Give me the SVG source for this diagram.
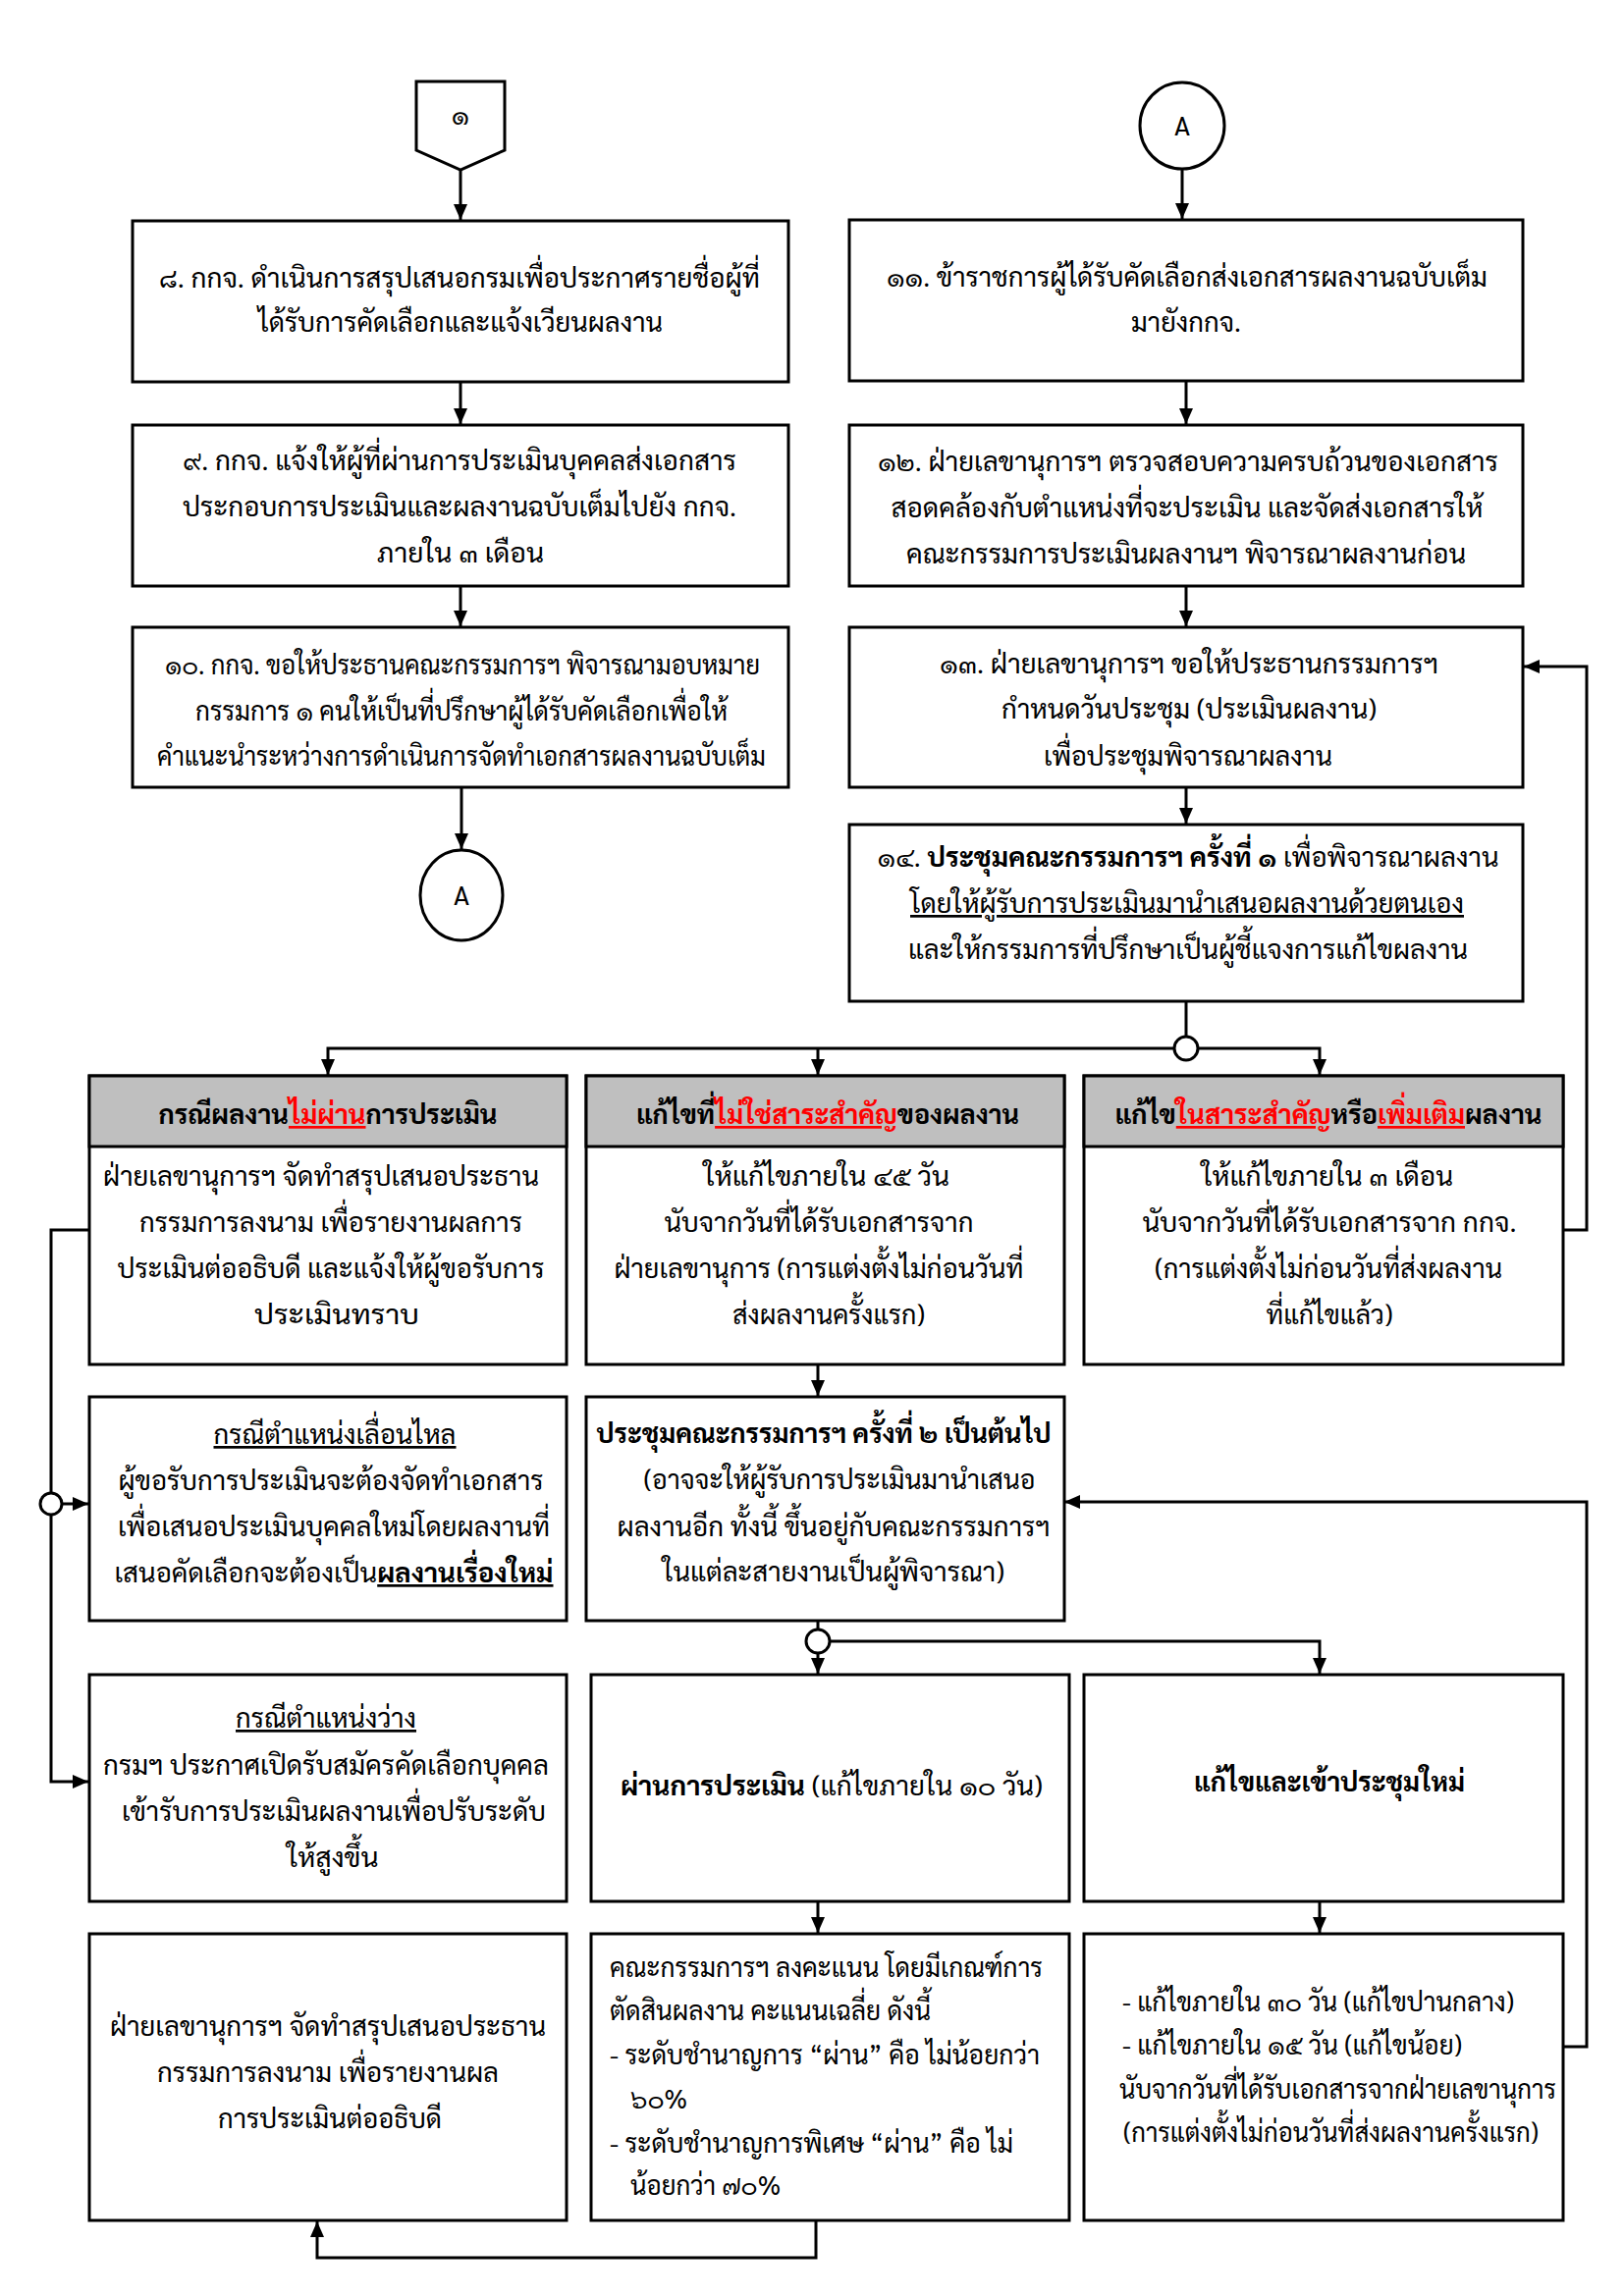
<svg xmlns="http://www.w3.org/2000/svg" width="1654" height="2339" viewBox="0 0 1654 2339">
<style>
.box{fill:#fff;stroke:#000;stroke-width:3}
.hdr{fill:#BFBFBF;stroke:#000;stroke-width:3}
.ln{fill:none;stroke:#000;stroke-width:3}
.arr{fill:none;stroke:#000;stroke-width:3;marker-end:url(#ah)}
.jc{fill:#fff;stroke:#000;stroke-width:3}
text{font-family:"TH Sarabun New","Sarabun","Noto Sans Thai","Noto Sans Thai UI","Garuda","Loma","Noto Sans","DejaVu Sans",sans-serif;font-size:27px;fill:#000;text-anchor:middle}
.l{text-anchor:start}
.b{font-weight:bold}
.u{text-decoration:underline}
.r{fill:#FF0000}
</style>
<defs>
<marker id="ah" viewBox="0 0 16 14" refX="16" refY="7" markerWidth="16" markerHeight="14" markerUnits="userSpaceOnUse" orient="auto">
<path d="M0,0 L16,7 L0,14 z" fill="#000"/>
</marker>
</defs>
<rect x="0" y="0" width="1654" height="2339" fill="#fff"/>

<g id="connectors">
<line class="arr" x1="469" y1="173" x2="469" y2="224"/>
<line class="arr" x1="469" y1="389" x2="469" y2="432"/>
<line class="arr" x1="469" y1="597" x2="469" y2="638"/>
<line class="arr" x1="470" y1="802" x2="470" y2="865"/>
<line class="arr" x1="1204" y1="172" x2="1204" y2="223"/>
<line class="arr" x1="1208" y1="388" x2="1208" y2="432"/>
<line class="arr" x1="1208" y1="597" x2="1208" y2="638"/>
<line class="arr" x1="1208" y1="802" x2="1208" y2="839"/>
<line class="ln" x1="1208" y1="1020" x2="1208" y2="1056"/>
<polyline class="arr" points="1196,1068 334,1068 334,1095"/>
<line class="arr" x1="833" y1="1068" x2="833" y2="1095"/>
<polyline class="arr" points="1220,1068 1344,1068 1344,1095"/>
<polyline class="arr" points="1592,1253 1616,1253 1616,679 1552,679"/>
<polyline class="arr" points="91,1253 52,1253 52,1815 90,1815"/>
<line class="arr" x1="63" y1="1532" x2="90" y2="1532"/>
<line class="arr" x1="833" y1="1390" x2="833" y2="1422"/>
<polyline class="arr" points="1592,2085 1616,2085 1616,1530 1084,1530"/>
<line class="ln" x1="833" y1="1651" x2="833" y2="1660"/>
<line class="arr" x1="833" y1="1684" x2="833" y2="1705"/>
<polyline class="arr" points="845,1672 1344,1672 1344,1705"/>
<line class="arr" x1="833" y1="1937" x2="833" y2="1969"/>
<line class="arr" x1="1344" y1="1937" x2="1344" y2="1969"/>
<polyline class="arr" points="831,2262 831,2300 323,2300 323,2263"/>
<circle class="jc" cx="1208" cy="1068" r="12"/>
<circle class="jc" cx="52" cy="1532" r="11"/>
<circle class="jc" cx="833" cy="1672" r="12"/>
</g>

<g id="n-offpage1">
<polygon class="box" points="424,83 514,83 514,153 469,173 424,153"/>
<text x="469" y="127">๑</text>
</g>

<g id="n-connA-top">
<ellipse class="box" cx="1204" cy="128" rx="43" ry="44"/>
<text x="1204" y="138">A</text>
</g>

<g id="n8">
<rect class="box" x="135" y="225" width="668" height="164"/>
<text x="468" y="293" textLength="612" lengthAdjust="spacingAndGlyphs">๘. กกจ. ดำเนินการสรุปเสนอกรมเพื่อประกาศรายชื่อผู้ที่</text>
<text x="469" y="338" textLength="412" lengthAdjust="spacingAndGlyphs">ได้รับการคัดเลือกและแจ้งเวียนผลงาน</text>
</g>

<g id="n11">
<rect class="box" x="865" y="224" width="686" height="164"/>
<text x="1209" y="292" textLength="612" lengthAdjust="spacingAndGlyphs">๑๑. ข้าราชการผู้ได้รับคัดเลือกส่งเอกสารผลงานฉบับเต็ม</text>
<text x="1208" y="338" textLength="112" lengthAdjust="spacingAndGlyphs">มายังกกจ.</text>
</g>

<g id="n9">
<rect class="box" x="135" y="433" width="668" height="164"/>
<text x="468" y="479" textLength="564" lengthAdjust="spacingAndGlyphs">๙. กกจ. แจ้งให้ผู้ที่ผ่านการประเมินบุคคลส่งเอกสาร</text>
<text x="468" y="526" textLength="564" lengthAdjust="spacingAndGlyphs">ประกอบการประเมินและผลงานฉบับเต็มไปยัง กกจ.</text>
<text x="469" y="573" textLength="170" lengthAdjust="spacingAndGlyphs">ภายใน ๓ เดือน</text>
</g>

<g id="n12">
<rect class="box" x="865" y="433" width="686" height="164"/>
<text x="1210" y="480" textLength="632" lengthAdjust="spacingAndGlyphs">๑๒. ฝ่ายเลขานุการฯ ตรวจสอบความครบถ้วนของเอกสาร</text>
<text x="1209" y="527" textLength="603" lengthAdjust="spacingAndGlyphs">สอดคล้องกับตำแหน่งที่จะประเมิน และจัดส่งเอกสารให้</text>
<text x="1208" y="574" textLength="570" lengthAdjust="spacingAndGlyphs">คณะกรรมการประเมินผลงานฯ พิจารณาผลงานก่อน</text>
</g>

<g id="n10">
<rect class="box" x="135" y="639" width="668" height="163"/>
<text x="471" y="687" textLength="606" lengthAdjust="spacingAndGlyphs">๑๐. กกจ. ขอให้ประธานคณะกรรมการฯ พิจารณามอบหมาย</text>
<text x="470" y="734" textLength="542" lengthAdjust="spacingAndGlyphs">กรรมการ ๑ คนให้เป็นที่ปรึกษาผู้ได้รับคัดเลือกเพื่อให้</text>
<text x="470" y="780" textLength="620" lengthAdjust="spacingAndGlyphs">คำแนะนำระหว่างการดำเนินการจัดทำเอกสารผลงานฉบับเต็ม</text>
</g>

<g id="n-connA-bottom">
<ellipse class="box" cx="470" cy="912" rx="42" ry="46"/>
<text x="470" y="922">A</text>
</g>

<g id="n13">
<rect class="box" x="865" y="639" width="686" height="163"/>
<text x="1211" y="686" textLength="508" lengthAdjust="spacingAndGlyphs">๑๓. ฝ่ายเลขานุการฯ ขอให้ประธานกรรมการฯ</text>
<text x="1211" y="732" textLength="382" lengthAdjust="spacingAndGlyphs">กำหนดวันประชุม (ประเมินผลงาน)</text>
<text x="1210" y="780" textLength="294" lengthAdjust="spacingAndGlyphs">เพื่อประชุมพิจารณาผลงาน</text>
</g>

<g id="n14">
<rect class="box" x="865" y="840" width="686" height="180"/>
<text x="1210" y="883" textLength="633" lengthAdjust="spacingAndGlyphs">๑๔. <tspan class="b">ประชุมคณะกรรมการฯ ครั้งที่ ๑</tspan> เพื่อพิจารณาผลงาน</text>
<text x="1209" y="930" class="u" textLength="564" lengthAdjust="spacingAndGlyphs">โดยให้ผู้รับการประเมินมานำเสนอผลงานด้วยตนเอง</text>
<text x="1210" y="977" textLength="570" lengthAdjust="spacingAndGlyphs">และให้กรรมการที่ปรึกษาเป็นผู้ชี้แจงการแก้ไขผลงาน</text>
</g>

<g id="n-fail">
<rect class="box" x="91" y="1096" width="486" height="294"/>
<rect class="hdr" x="91" y="1096" width="486" height="72"/>
<text x="334" y="1145" class="b" textLength="345" lengthAdjust="spacingAndGlyphs">กรณีผลงาน<tspan class="r u">ไม่ผ่าน</tspan>การประเมิน</text>
<text x="327" y="1208" textLength="444" lengthAdjust="spacingAndGlyphs">ฝ่ายเลขานุการฯ จัดทำสรุปเสนอประธาน</text>
<text x="337" y="1255" textLength="390" lengthAdjust="spacingAndGlyphs">กรรมการลงนาม เพื่อรายงานผลการ</text>
<text x="337" y="1302" textLength="435" lengthAdjust="spacingAndGlyphs">ประเมินต่ออธิบดี และแจ้งให้ผู้ขอรับการ</text>
<text x="343" y="1349" textLength="168" lengthAdjust="spacingAndGlyphs">ประเมินทราบ</text>
</g>

<g id="n-minor">
<rect class="box" x="597" y="1096" width="487" height="294"/>
<rect class="hdr" x="597" y="1096" width="487" height="72"/>
<text x="843" y="1145" class="b" textLength="390" lengthAdjust="spacingAndGlyphs">แก้ไขที่<tspan class="r u">ไม่ใช่สาระสำคัญ</tspan>ของผลงาน</text>
<text x="842" y="1208" textLength="250" lengthAdjust="spacingAndGlyphs">ให้แก้ไขภายใน ๔๕ วัน</text>
<text x="834" y="1255" textLength="315" lengthAdjust="spacingAndGlyphs">นับจากวันที่ได้รับเอกสารจาก</text>
<text x="834" y="1302" textLength="417" lengthAdjust="spacingAndGlyphs">ฝ่ายเลขานุการ (การแต่งตั้งไม่ก่อนวันที่</text>
<text x="844" y="1349" textLength="196" lengthAdjust="spacingAndGlyphs">ส่งผลงานครั้งแรก)</text>
</g>

<g id="n-major">
<rect class="box" x="1104" y="1096" width="488" height="294"/>
<rect class="hdr" x="1104" y="1096" width="488" height="72"/>
<text x="1353" y="1145" class="b" textLength="435" lengthAdjust="spacingAndGlyphs">แก้ไข<tspan class="r u">ในสาระสำคัญ</tspan>หรือ<tspan class="r u">เพิ่มเติม</tspan>ผลงาน</text>
<text x="1352" y="1208" textLength="256" lengthAdjust="spacingAndGlyphs">ให้แก้ไขภายใน ๓ เดือน</text>
<text x="1354" y="1255" textLength="381" lengthAdjust="spacingAndGlyphs">นับจากวันที่ได้รับเอกสารจาก กกจ.</text>
<text x="1353" y="1302" textLength="354" lengthAdjust="spacingAndGlyphs">(การแต่งตั้งไม่ก่อนวันที่ส่งผลงาน</text>
<text x="1354" y="1349" textLength="129" lengthAdjust="spacingAndGlyphs">ที่แก้ไขแล้ว)</text>
</g>

<g id="n-shift">
<rect class="box" x="91" y="1423" width="486" height="228"/>
<text x="341" y="1471" class="u" textLength="247" lengthAdjust="spacingAndGlyphs">กรณีตำแหน่งเลื่อนไหล</text>
<text x="337" y="1518" textLength="433" lengthAdjust="spacingAndGlyphs">ผู้ขอรับการประเมินจะต้องจัดทำเอกสาร</text>
<text x="340" y="1565" textLength="440" lengthAdjust="spacingAndGlyphs">เพื่อเสนอประเมินบุคคลใหม่โดยผลงานที่</text>
<text x="340" y="1612" textLength="447" lengthAdjust="spacingAndGlyphs">เสนอคัดเลือกจะต้องเป็น<tspan class="b u">ผลงานเรื่องใหม่</tspan></text>
</g>

<g id="n-meet2">
<rect class="box" x="597" y="1423" width="487" height="228"/>
<text x="839" y="1470" class="b" textLength="463" lengthAdjust="spacingAndGlyphs">ประชุมคณะกรรมการฯ ครั้งที่ ๒ เป็นต้นไป</text>
<text x="855" y="1517" textLength="399" lengthAdjust="spacingAndGlyphs">(อาจจะให้ผู้รับการประเมินมานำเสนอ</text>
<text x="849" y="1565" textLength="441" lengthAdjust="spacingAndGlyphs">ผลงานอีก ทั้งนี้ ขึ้นอยู่กับคณะกรรมการฯ</text>
<text x="849" y="1611" textLength="348" lengthAdjust="spacingAndGlyphs">ในแต่ละสายงานเป็นผู้พิจารณา)</text>
</g>

<g id="n-vacant">
<rect class="box" x="91" y="1706" width="486" height="231"/>
<text x="332" y="1760" class="u" textLength="184" lengthAdjust="spacingAndGlyphs">กรณีตำแหน่งว่าง</text>
<text x="332" y="1808" textLength="454" lengthAdjust="spacingAndGlyphs">กรมฯ ประกาศเปิดรับสมัครคัดเลือกบุคคล</text>
<text x="340" y="1855" textLength="432" lengthAdjust="spacingAndGlyphs">เข้ารับการประเมินผลงานเพื่อปรับระดับ</text>
<text x="339" y="1902" textLength="93" lengthAdjust="spacingAndGlyphs">ให้สูงขึ้น</text>
</g>

<g id="n-pass">
<rect class="box" x="602" y="1706" width="487" height="231"/>
<text x="847" y="1829" textLength="430" lengthAdjust="spacingAndGlyphs"><tspan class="b">ผ่านการประเมิน</tspan> (แก้ไขภายใน ๑๐ วัน)</text>
</g>

<g id="n-revise">
<rect class="box" x="1104" y="1706" width="488" height="231"/>
<text x="1354" y="1825" class="b" textLength="276" lengthAdjust="spacingAndGlyphs">แก้ไขและเข้าประชุมใหม่</text>
</g>

<g id="n-report">
<rect class="box" x="91" y="1970" width="486" height="292"/>
<text x="334" y="2074" textLength="444" lengthAdjust="spacingAndGlyphs">ฝ่ายเลขานุการฯ จัดทำสรุปเสนอประธาน</text>
<text x="334" y="2121" textLength="348" lengthAdjust="spacingAndGlyphs">กรรมการลงนาม เพื่อรายงานผล</text>
<text x="336" y="2168" textLength="228" lengthAdjust="spacingAndGlyphs">การประเมินต่ออธิบดี</text>
</g>

<g id="n-score">
<rect class="box" x="602" y="1970" width="487" height="292"/>
<text x="621" y="2014" class="l" textLength="441" lengthAdjust="spacingAndGlyphs">คณะกรรมการฯ ลงคะแนน โดยมีเกณฑ์การ</text>
<text x="621" y="2058" class="l" textLength="327" lengthAdjust="spacingAndGlyphs">ตัดสินผลงาน คะแนนเฉลี่ย ดังนี้</text>
<text x="621" y="2103" class="l" textLength="438" lengthAdjust="spacingAndGlyphs">- ระดับชำนาญการ “ผ่าน” คือ ไม่น้อยกว่า</text>
<text x="642" y="2148" class="l" textLength="58" lengthAdjust="spacingAndGlyphs">๖๐%</text>
<text x="621" y="2193" class="l" textLength="411" lengthAdjust="spacingAndGlyphs">- ระดับชำนาญการพิเศษ “ผ่าน” คือ ไม่</text>
<text x="642" y="2236" class="l" textLength="153" lengthAdjust="spacingAndGlyphs">น้อยกว่า ๗๐%</text>
</g>

<g id="n-deadline">
<rect class="box" x="1104" y="1970" width="488" height="292"/>
<text x="1143" y="2049" class="l" textLength="399" lengthAdjust="spacingAndGlyphs">- แก้ไขภายใน ๓๐ วัน (แก้ไขปานกลาง)</text>
<text x="1143" y="2093" class="l" textLength="346" lengthAdjust="spacingAndGlyphs">- แก้ไขภายใน ๑๕ วัน (แก้ไขน้อย)</text>
<text x="1140" y="2138" class="l" textLength="445" lengthAdjust="spacingAndGlyphs">นับจากวันที่ได้รับเอกสารจากฝ่ายเลขานุการ</text>
<text x="1144" y="2182" class="l" textLength="423" lengthAdjust="spacingAndGlyphs">(การแต่งตั้งไม่ก่อนวันที่ส่งผลงานครั้งแรก)</text>
</g>
</svg>
